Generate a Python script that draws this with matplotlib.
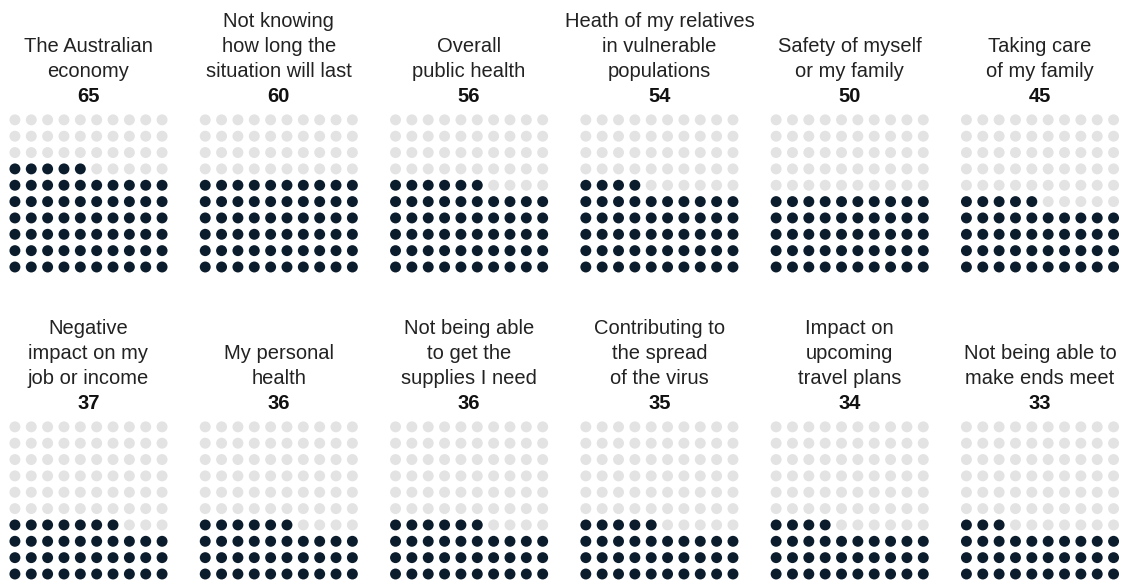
import matplotlib
matplotlib.use("Agg")
import matplotlib.pyplot as plt
import numpy as np

# Share of respondents worried about each issue (out of 100)
labels = [
    "The Australian\neconomy",
    "Not knowing\nhow long the\nsituation will last",
    "Overall\npublic health",
    "Heath of my relatives\nin vulnerable\npopulations",
    "Safety of myself\nor my family",
    "Taking care\nof my family",
    "Negative\nimpact on my\njob or income",
    "My personal\nhealth",
    "Not being able\nto get the\nsupplies I need",
    "Contributing to\nthe spread\nof the virus",
    "Impact on\nupcoming\ntravel plans",
    "Not being able to\nmake ends meet",
]
values = [65, 60, 56, 54, 50, 45, 37, 36, 36, 35, 34, 33]

W, H = 1130, 581
DARK = "#0b1c2d"
LIGHT = "#e3e3e3"
TEXT = "#222222"

plt.rcParams["font.family"] = ["Liberation Sans", "DejaVu Sans"]

fig = plt.figure(figsize=(W / 100, H / 100), dpi=100)
fig.patch.set_facecolor("white")

step = 16.35          # px between dot centres
col_x0 = 88.5         # centre of first column of waffles
col_dx = 190.3        # distance between waffle centres
row_bottom_dot = [267, 574]   # y (from top) of lowest dot row per panel row
row_number_base = [102, 409]  # baseline (from top) of the value label
line_gap = 25

gx, gy = np.meshgrid(np.arange(10), np.arange(10))
gx = gx.ravel()
gy = gy.ravel()
order = gy * 10 + gx

for k, (lab, val) in enumerate(zip(labels, values)):
    r, c = divmod(k, 6)
    cx = col_x0 + col_dx * c
    left = cx - 5 * step
    bottom = H - row_bottom_dot[r] - step / 2
    ax = fig.add_axes([left / W, bottom / H, 10 * step / W, 10 * step / H])
    ax.set_xlim(-0.5, 9.5)
    ax.set_ylim(-0.5, 9.5)
    ax.axis("off")
    filled = order < val
    colors = np.where(filled, DARK, LIGHT)
    ax.scatter(gx, gy, s=62, c=colors, linewidths=0)

    # value label
    yb = row_number_base[r]
    fig.text(cx / W, 1 - yb / H, str(val), ha="center", va="baseline",
             fontsize=14.5, fontweight="bold", color="#111111")
    # title lines, bottom-aligned above the value
    lines = lab.split("\n")
    for i, line in enumerate(reversed(lines)):
        y = yb - line_gap * (i + 1)
        fig.text(cx / W, 1 - y / H, line, ha="center", va="baseline",
                 fontsize=14.5, color=TEXT)

fig.savefig("out.png", dpi=100, facecolor="white")
